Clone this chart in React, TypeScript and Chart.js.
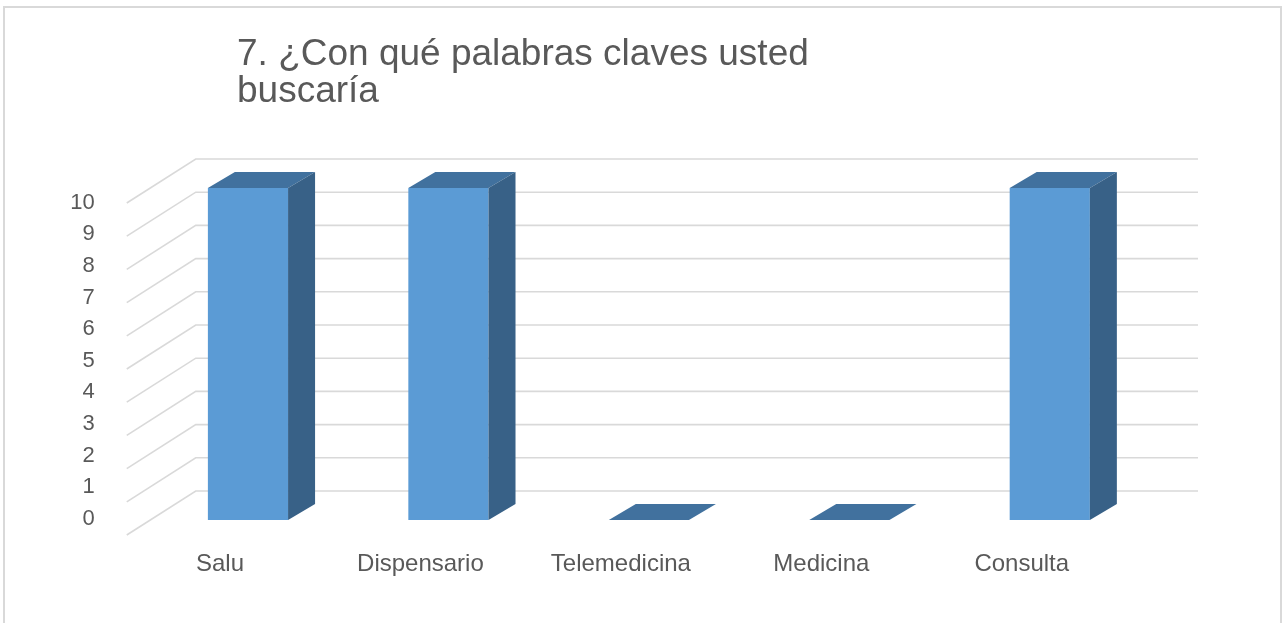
import React, { useEffect, useRef } from "react";
import { Chart, registerables } from "chart.js";

Chart.register(...registerables);

// ---- data ----
const categories = ["Salu", "Dispensario", "Telemedicina", "Medicina", "Consulta"];
const values = [10, 10, 0, 0, 10];
const yTicks = [0, 1, 2, 3, 4, 5, 6, 7, 8, 9, 10];
const titleLines = ["7. ¿Con qué palabras claves usted", "buscaría"];

// ---- style ----
const FONT = "'Liberation Sans', Arial, sans-serif";
const TEXT = "#595959";
const GRID = "#D9D9D9";
const FRONT = "#5B9BD5";
const TOP = "#41719E";
const SIDE = "#386187";
const DEPTH_X = 27;
const DEPTH_Y = -16;

const framePlugin = {
  id: "frame",
  beforeDraw(chart: any) {
    const { ctx, width, height } = chart;
    ctx.save();
    ctx.fillStyle = "#ffffff";
    ctx.fillRect(0, 0, width, height);
    ctx.strokeStyle = GRID;
    ctx.lineWidth = 2;
    ctx.strokeRect(4, 7, 1277, 700);
    ctx.fillStyle = TEXT;
    ctx.font = `37px ${FONT}`;
    ctx.textBaseline = "alphabetic";
    ctx.textAlign = "left";
    titleLines.forEach((t, i) => ctx.fillText(t, 237, 65 + i * 37));
    ctx.restore();
  },
};

const wallPlugin = {
  id: "wall3d",
  beforeDatasetsDraw(chart: any) {
    const { ctx, chartArea, scales } = chart;
    const y = scales.y;
    const backLeft = chartArea.left + 48;
    const backRight = chartArea.right + 48;
    const frontLeft = chartArea.left - 21;
    ctx.save();
    ctx.strokeStyle = GRID;
    ctx.lineWidth = 1.6;
    yTicks.forEach((v) => {
      const by = y.getPixelForValue(v) - 29;
      ctx.beginPath();
      ctx.moveTo(frontLeft, by + 44);
      ctx.lineTo(backLeft, by);
      ctx.lineTo(backRight, by);
      ctx.stroke();
    });
    ctx.restore();
  },
  afterDatasetsDraw(chart: any) {
    const { ctx } = chart;
    const meta = chart.getDatasetMeta(0);
    ctx.save();
    meta.data.forEach((bar: any) => {
      const { x, y, base, width } = bar.getProps(["x", "y", "base", "width"], true);
      const l = x - width / 2;
      const r = x + width / 2;
      ctx.fillStyle = TOP;
      ctx.beginPath();
      ctx.moveTo(l, y);
      ctx.lineTo(r, y);
      ctx.lineTo(r + DEPTH_X, y + DEPTH_Y);
      ctx.lineTo(l + DEPTH_X, y + DEPTH_Y);
      ctx.closePath();
      ctx.fill();
      if (base - y > 0.5) {
        ctx.fillStyle = SIDE;
        ctx.beginPath();
        ctx.moveTo(r, y);
        ctx.lineTo(r + DEPTH_X, y + DEPTH_Y);
        ctx.lineTo(r + DEPTH_X, base + DEPTH_Y);
        ctx.lineTo(r, base);
        ctx.closePath();
        ctx.fill();
      }
    });
    ctx.restore();
  },
};

export default function App() {
  const ref = useRef<HTMLCanvasElement | null>(null);

  useEffect(() => {
    if (!ref.current) return;
    const chart = new Chart(ref.current, {
      type: "bar",
      data: {
        labels: categories,
        datasets: [
          {
            data: values,
            backgroundColor: FRONT,
            borderWidth: 0,
            barPercentage: 0.4,
            categoryPercentage: 1,
            yAxisID: "y",
          },
        ],
      },
      options: {
        responsive: false,
        animation: false,
        events: [],
        layout: { padding: { left: 0, right: 135, top: 188, bottom: 0 } },
        plugins: { legend: { display: false }, title: { display: false }, tooltip: { enabled: false } },
        scales: {
          x: {
            type: "category",
            grid: { display: false, drawTicks: false },
            border: { display: false },
            ticks: {
              labelOffset: -28,
              padding: 30,
              color: TEXT,
              font: { family: FONT, size: 24 },
              maxRotation: 0,
              autoSkip: false,
            },
            afterFit: (s: any) => {
              s.height = 103;
            },
          },
          y: { display: false, min: 0, max: 10 },
          yl: {
            type: "linear",
            position: "left",
            min: -0.0316,
            max: 10.458,
            grid: { display: false, drawTicks: false },
            border: { display: false },
            ticks: { padding: 53, color: TEXT, font: { family: FONT, size: 22 } },
            afterBuildTicks: (s: any) => {
              s.ticks = yTicks.map((v) => ({ value: v }));
            },
            afterFit: (s: any) => {
              s.width = 147.75;
            },
          },
        },
      },
      plugins: [framePlugin, wallPlugin],
    } as any);
    return () => chart.destroy();
  }, []);

  return (
    <div style={{ position: "fixed", left: 0, top: 0, width: 1285, height: 623, background: "#fff" }}>
      <canvas ref={ref} width={1285} height={623} style={{ display: "block" }} />
    </div>
  );
}
